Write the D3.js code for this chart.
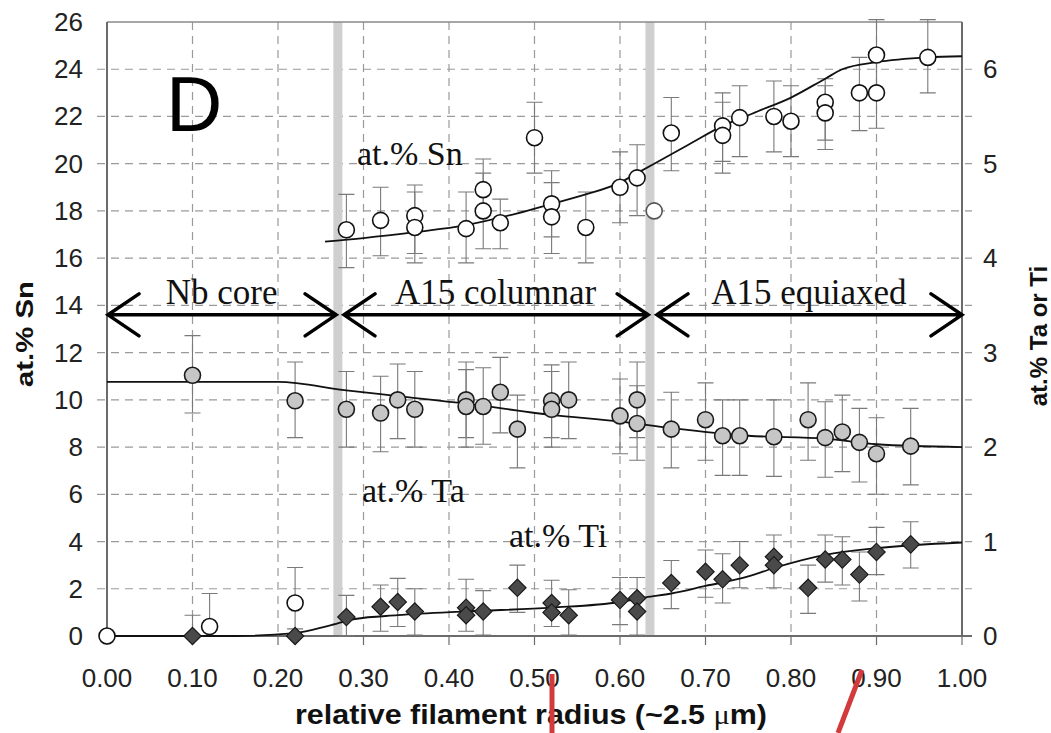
<!DOCTYPE html>
<html lang="en">
<head>
    <meta charset="utf-8">
    <title>Filament composition profile</title>
    <script src="https://d3js.org/d3.v7.min.js"></script>
    <style>
        body { margin: 0; padding: 0; overflow: hidden; background: #fff; }
    </style>
</head>
<body>
    <svg id="chart"></svg>
    <script>
        // x = relative filament radius, v = value, lo/hi = error bar ends
        // Sn values in at.% (left axis)
        const snPoints = [
            [0.00, 0.0, null, null], [0.12, 0.4, 0.0, 1.8], [0.22, 1.4, 0.3, 2.9],
            [0.28, 17.2, 15.6, 18.7], [0.32, 17.6, 16.1, 19.0], [0.36, 17.8, 16.2, 19.1],
            [0.36, 17.3, 15.8, 18.8], [0.42, 17.25, 15.8, 18.8], [0.44, 18.9, 17.8, 20.2],
            [0.44, 18.0, 16.4, 19.6], [0.46, 17.5, 16.4, 18.5], [0.50, 21.1, 19.6, 22.6],
            [0.52, 18.3, 16.9, 19.7], [0.52, 17.75, 16.2, 19.2], [0.56, 17.3, 15.8, 18.8],
            [0.60, 19.0, 17.5, 20.5], [0.62, 19.4, 17.8, 20.8], [0.64, 18.0, null, null],
            [0.66, 21.3, 19.7, 22.8], [0.72, 21.6, 20.1, 23.0], [0.72, 21.2, 19.6, 22.6],
            [0.74, 21.95, 20.3, 23.3], [0.78, 22.0, 20.5, 23.5], [0.80, 21.8, 20.3, 23.3],
            [0.84, 22.6, 21.0, 23.6], [0.84, 22.15, 20.6, 23.3], [0.88, 23.0, 21.4, 24.5],
            [0.90, 24.6, 23.0, 26.1], [0.90, 23.0, 21.5, 24.5], [0.96, 24.5, 23.0, 26.1]
        ];
        // Ta values in at.% (right axis)
        const taPoints = [
            [0.10, 2.76, 2.36, 3.18], [0.22, 2.49, 2.10, 2.90], [0.28, 2.40, 2.00, 2.80],
            [0.32, 2.36, 1.95, 2.75], [0.34, 2.50, 2.09, 2.88], [0.36, 2.40, 2.00, 2.80],
            [0.42, 2.50, 2.10, 2.90], [0.42, 2.43, 2.00, 2.82], [0.44, 2.43, 2.03, 2.84],
            [0.46, 2.58, 2.15, 2.95], [0.48, 2.19, 1.78, 2.55], [0.52, 2.49, 2.10, 2.87],
            [0.52, 2.40, 2.00, 2.80], [0.54, 2.50, 2.09, 2.90], [0.60, 2.33, 1.93, 2.72],
            [0.62, 2.50, 2.10, 2.90], [0.62, 2.25, 1.86, 2.65], [0.66, 2.19, 1.78, 2.58],
            [0.70, 2.29, 1.86, 2.68], [0.72, 2.12, 1.70, 2.50], [0.74, 2.12, 1.70, 2.50],
            [0.78, 2.11, 1.69, 2.50], [0.82, 2.29, 1.86, 2.68], [0.84, 2.10, 1.68, 2.48],
            [0.86, 2.16, 1.74, 2.55], [0.88, 2.05, 1.63, 2.41], [0.90, 1.93, 1.50, 2.31],
            [0.94, 2.01, 1.60, 2.41]
        ];
        // Ti values in at.% (right axis)
        const tiPoints = [
            [0.10, 0.00, 0.00, 0.22], [0.22, 0.00, null, null], [0.28, 0.20, 0.00, 0.43],
            [0.32, 0.31, 0.05, 0.54], [0.34, 0.36, 0.10, 0.61], [0.36, 0.26, 0.01, 0.50],
            [0.42, 0.30, 0.05, 0.60], [0.42, 0.22, null, null], [0.44, 0.26, 0.01, 0.48],
            [0.48, 0.51, 0.25, 0.75], [0.52, 0.35, 0.10, 0.59], [0.52, 0.25, null, null],
            [0.54, 0.22, 0.01, 0.49], [0.60, 0.38, 0.12, 0.62], [0.62, 0.40, 0.01, 0.62],
            [0.62, 0.26, null, null], [0.66, 0.56, 0.29, 0.80], [0.70, 0.68, 0.41, 0.91],
            [0.72, 0.60, 0.35, 0.87], [0.74, 0.75, 0.51, 1.00], [0.78, 0.84, 0.51, 1.07],
            [0.78, 0.75, null, null], [0.82, 0.51, 0.24, 0.75], [0.84, 0.81, 0.57, 1.07],
            [0.86, 0.81, 0.54, 1.05], [0.88, 0.65, 0.37, 0.89], [0.90, 0.89, 0.65, 1.15],
            [0.94, 0.97, 0.72, 1.21]
        ];
        // trend curves
        const snCurve = [[0.255, 16.7], [0.30, 16.85], [0.36, 17.1], [0.42, 17.4], [0.48, 17.9],
            [0.52, 18.3], [0.56, 18.7], [0.60, 19.2], [0.62, 19.6], [0.64, 20.0], [0.68, 20.8],
            [0.72, 21.6], [0.76, 22.2], [0.80, 22.8], [0.84, 23.6], [0.86, 24.0], [0.90, 24.3],
            [0.96, 24.5], [1.00, 24.55]];
        const taCurve = [[0, 2.69], [0.20, 2.69], [0.28, 2.60], [0.34, 2.54], [0.42, 2.46],
            [0.52, 2.34], [0.60, 2.27], [0.66, 2.20], [0.75, 2.12], [0.84, 2.09], [0.90, 2.03],
            [1.00, 2.00]];
        const tiCurve = [[0, 0], [0.15, 0], [0.22, 0.03], [0.26, 0.11], [0.29, 0.18], [0.34, 0.22],
            [0.42, 0.26], [0.52, 0.30], [0.60, 0.36], [0.63, 0.41], [0.66, 0.45], [0.70, 0.53],
            [0.75, 0.63], [0.78, 0.72], [0.84, 0.86], [0.90, 0.93], [1.00, 0.99]];

        const xTicks = d3.range(0, 1.0001, 0.1);
        const leftTicks = d3.range(0, 26.1, 2);
        const rightTicks = [0, 1, 2, 3, 4, 5, 6];
        const boundaries = [0.27, 0.635];
        const regions = [
            { name: "Nb core", from: 0, to: 0.268 },
            { name: "A15 columnar", from: 0.276, to: 0.633 },
            { name: "A15 equiaxed", from: 0.642, to: 1.0 }
        ];
        const regionLevel = 13.6; // left axis units

        const width = 1051, height = 733;
        const svg = d3.select("#chart").attr("width", width).attr("height", height);

        const x = d3.scaleLinear().domain([0, 1]).range([107, 962]);
        const yL = d3.scaleLinear().domain([0, 26]).range([636, 22]);
        const yR = d3.scaleLinear().domain([0, 6.5]).range([636, 22]);

        const sans = "'Liberation Sans', Arial, sans-serif";
        const serif = "'Liberation Serif', 'Times New Roman', serif";

        // grid
        const grid = svg.append("g").attr("stroke", "#9a9a9a").attr("stroke-width", 1.2)
            .attr("stroke-dasharray", "8,6");
        grid.selectAll("line.h").data(leftTicks.slice(1, -1)).join("line")
            .attr("x1", 97).attr("x2", 972)
            .attr("y1", d => yL(d)).attr("y2", d => yL(d));
        grid.selectAll("line.v").data(xTicks.slice(1, -1)).join("line")
            .attr("y1", yL(26)).attr("y2", yL(0))
            .attr("x1", d => x(d)).attr("x2", d => x(d));

        // boundary bands
        svg.append("g").selectAll("rect").data(boundaries).join("rect")
            .attr("x", d => x(d) - 4.5).attr("width", 9)
            .attr("y", yL(26)).attr("height", yL(0) - yL(26))
            .attr("fill", "#cfcfcf");

        // frame
        const frame = svg.append("g").attr("stroke", "#6b6b6b").attr("stroke-width", 2).attr("fill", "none");
        frame.append("line").attr("x1", x(0)).attr("x2", x(1)).attr("y1", yL(26)).attr("y2", yL(26))
            .attr("stroke", "#8a8a8a").attr("stroke-width", 1.5);
        frame.append("line").attr("x1", x(0)).attr("x2", x(0)).attr("y1", yL(26)).attr("y2", yL(0));
        frame.append("line").attr("x1", x(1)).attr("x2", x(1)).attr("y1", yL(26)).attr("y2", yL(0));
        frame.append("line").attr("x1", x(0)).attr("x2", x(1) + 10).attr("y1", yL(0)).attr("y2", yL(0));
        frame.selectAll("line.t").data(xTicks).join("line")
            .attr("stroke-width", 1.2)
            .attr("x1", d => x(d)).attr("x2", d => x(d)).attr("y1", yL(0)).attr("y2", yL(0) + 9);

        // tick labels
        const axisText = svg.append("g").attr("font-family", sans).attr("font-size", 26).attr("fill", "#222");
        axisText.selectAll("text.l").data(leftTicks).join("text")
            .attr("x", 83).attr("y", d => yL(d) + 9).attr("text-anchor", "end").text(d => d);
        axisText.selectAll("text.r").data(rightTicks).join("text")
            .attr("x", 983).attr("y", d => yR(d) + 9).attr("text-anchor", "start").text(d => d);
        axisText.selectAll("text.x").data(xTicks).join("text")
            .attr("x", d => x(d)).attr("y", 687).attr("text-anchor", "middle").text(d => d3.format(".2f")(d));

        // axis titles
        svg.append("text").attr("font-family", sans).attr("font-weight", "bold").attr("font-size", 24)
            .attr("text-anchor", "middle").attr("fill", "#111")
            .attr("textLength", 106).attr("lengthAdjust", "spacingAndGlyphs")
            .attr("transform", `translate(33,334) rotate(-90)`).text("at.% Sn");
        svg.append("text").attr("font-family", sans).attr("font-weight", "bold").attr("font-size", 24)
            .attr("text-anchor", "middle").attr("fill", "#111")
            .attr("transform", `translate(1047,336) rotate(-90)`).text("at.% Ta or Ti");
        const xt = svg.append("text").attr("font-family", sans).attr("font-weight", "bold").attr("font-size", 28)
            .attr("text-anchor", "middle").attr("fill", "#111").attr("x", 531).attr("y", 724)
            .attr("textLength", 472).attr("lengthAdjust", "spacingAndGlyphs");
        xt.append("tspan").text("relative filament radius (~2.5 ");
        xt.append("tspan").attr("font-family", serif).attr("font-weight", "normal").text("μ");
        xt.append("tspan").text("m)");

        // error bars
        function errorBars(data, y) {
            const g = svg.append("g").attr("stroke", "#7a7a7a").attr("stroke-width", 1.1).attr("fill", "none");
            const withErr = data.filter(d => d[2] !== null);
            g.selectAll("path").data(withErr).join("path")
                .attr("d", d => {
                    const cx = x(d[0]), y1 = y(d[2]), y2 = y(d[3]);
                    return `M${cx},${y1}V${y2}M${cx - 8},${y1}H${cx + 8}M${cx - 8},${y2}H${cx + 8}`;
                });
        }
        errorBars(snPoints, yL);
        errorBars(taPoints, yR);
        errorBars(tiPoints, yR);

        // trend curves
        function curve(data, y) {
            svg.append("path").datum(data)
                .attr("fill", "none").attr("stroke", "#111").attr("stroke-width", 1.8)
                .attr("d", d3.line().x(d => x(d[0])).y(d => y(d[1])).curve(d3.curveMonotoneX));
        }
        curve(snCurve, yL);
        curve(taCurve, yR);
        curve(tiCurve, yR);

        // markers
        svg.append("g").selectAll("circle").data(taPoints).join("circle")
            .attr("cx", d => x(d[0])).attr("cy", d => yR(d[1])).attr("r", 8)
            .attr("fill", "#c6c6c6").attr("stroke", "#1a1a1a").attr("stroke-width", 1.6);
        svg.append("g").selectAll("path").data(tiPoints).join("path")
            .attr("d", d3.symbol().type(d3.symbolSquare).size(150))
            .attr("transform", d => `translate(${x(d[0])},${yR(d[1])}) rotate(45)`)
            .attr("fill", "#4a4a4a").attr("stroke", "#1a1a1a").attr("stroke-width", 1.2);
        svg.append("g").selectAll("circle").data(snPoints).join("circle")
            .attr("cx", d => x(d[0])).attr("cy", d => yL(d[1])).attr("r", 8)
            .attr("fill", "#fff")
            .attr("stroke", d => d[0] === 0.64 ? "#555" : "#111").attr("stroke-width", 1.6);

        // region arrows
        const ay = yL(regionLevel);
        const arrows = svg.append("g").attr("stroke", "#000").attr("stroke-width", 3.5)
            .attr("fill", "none").attr("stroke-linecap", "round");
        arrows.selectAll("path").data(regions).join("path")
            .attr("d", d => {
                const a = x(d.from) + 1, b = x(d.to);
                return `M${a},${ay}H${b}M${a + 31},${ay - 21}L${a},${ay}L${a + 31},${ay + 21}` +
                    `M${b - 31},${ay - 21}L${b},${ay}L${b - 31},${ay + 21}`;
            });
        svg.append("g").attr("font-family", serif).attr("font-size", 35).attr("fill", "#111")
            .selectAll("text").data(regions).join("text")
            .attr("x", d => (x(d.from) + x(d.to)) / 2).attr("y", ay - 11)
            .attr("text-anchor", "middle").text(d => d.name);

        // series labels
        const labels = svg.append("g").attr("font-family", serif).attr("font-size", 34).attr("fill", "#111");
        labels.append("text").attr("x", 357).attr("y", 165).text("at.% Sn");
        labels.append("text").attr("x", 362).attr("y", 502).text("at.% Ta");
        labels.append("text").attr("x", 509).attr("y", 547).text("at.% Ti");

        svg.append("text").attr("x", 166).attr("y", 131).attr("font-family", sans)
            .attr("font-size", 78).attr("fill", "#000").text("D");

        // red marks over the axis title
        svg.append("g").attr("stroke", "#d23a3c").attr("stroke-width", 5)
            .selectAll("line").data([[552, 674, 552, 733], [862, 670, 838, 733]]).join("line")
            .attr("x1", d => d[0]).attr("y1", d => d[1]).attr("x2", d => d[2]).attr("y2", d => d[3]);
    </script>
</body>
</html>
